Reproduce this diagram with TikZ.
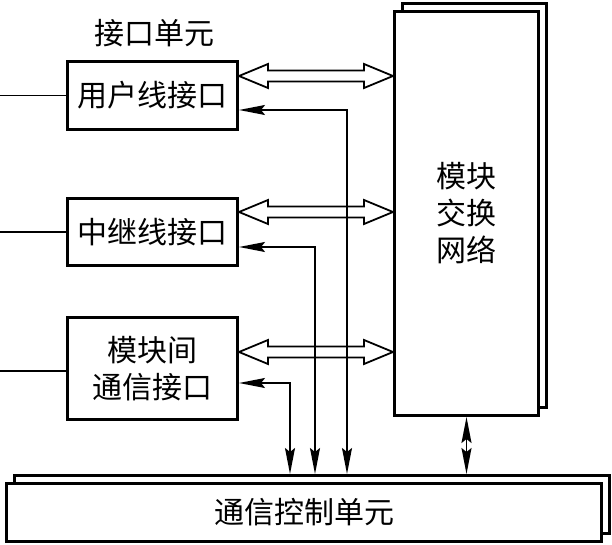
\documentclass[tikz,border=0pt]{standalone}
\usepackage{fontspec}
\newfontfamily\cjk{Noto Sans CJK SC}
\usetikzlibrary{arrows.meta,positioning,calc}

% wide hollow two-way bus arrow between two points on one level
\newcommand{\busarrow}[2]{%
  \draw[hollow] (#1) -- ($(#1)+(29pt,12pt)$) -- ($(#1)+(29pt,5.5pt)$)
    -- ($(#2)+(-29pt,5.5pt)$) -- ($(#2)+(-29pt,12pt)$) -- (#2)
    -- ($(#2)+(-29pt,-12pt)$) -- ($(#2)+(-29pt,-5.5pt)$)
    -- ($(#1)+(29pt,-5.5pt)$) -- ($(#1)+(29pt,-12pt)$) -- cycle;}

\begin{document}
\begin{tikzpicture}[
  x=1pt, y=-1pt,
  box/.style={draw, line width=2.8pt, fill=white, align=center, inner sep=2pt},
  hollow/.style={line width=1.8pt, fill=white, line join=miter},
  sig/.style={line width=1.7pt, {Stealth[length=26pt,width=10pt,inset=4pt]}-{Stealth[length=26pt,width=10pt,inset=4pt]}},
  wire/.style={line width=1.7pt},
  every node/.style={font=\cjk\fontsize{30}{37}\selectfont}
]
  \useasboundingbox (0,0) rectangle (612,545);

  % stacked units
  \node[box, minimum width=144.2pt, minimum height=404.2pt] (netback) at (474.5,205.5) {};
  \node[box, minimum width=144.2pt, minimum height=404.2pt] (net) at (466.5,213.5) {模块\\交换\\网络};
  \node[box, minimum width=595.2pt, minimum height=58.2pt] (ctrlback) at (312,504.5) {};
  \node[box, minimum width=595.2pt, minimum height=58.2pt] (ctrl) at (304,512.5) {通信控制单元};

  % interface unit
  \node (unit) at (154,33) {接口单元};
  \node[box, minimum width=170.2pt, minimum height=68.2pt] (user) at (152.5,95.5) {用户线接口};
  \node[box, minimum width=170.2pt, minimum height=67.2pt] (trunk) at (152.5,232) {中继线接口};
  \node[box, minimum width=170.2pt, minimum height=102.2pt] (inter) at (152.5,368.5) {模块间\\通信接口};

  \coordinate (ileft) at ([yshift=-2.5pt]inter.west);
  \draw[wire] (user.west) -- (0,0 |- user.west);
  \draw[wire] (trunk.west) -- (0,0 |- trunk.west);
  \draw[wire] (ileft) -- (0,0 |- ileft);

  % buses to the switching network
  \coordinate (ua) at ([yshift=19.5pt]user.east);
  \coordinate (ub) at (ua -| net.west);
  \coordinate (ta) at ([yshift=20pt]trunk.east);
  \coordinate (tb) at (ta -| net.west);
  \coordinate (ia) at ([yshift=16.5pt]inter.east);
  \coordinate (ib) at (ia -| net.west);
  \busarrow{ua}{ub}
  \busarrow{ta}{tb}
  \busarrow{ia}{ib}

  % control lines
  \draw[sig] ([yshift=-14.5pt]user.east) -| (347,0 |- ctrlback.north);
  \draw[sig] ([yshift=-15pt]trunk.east) -| (315,0 |- ctrlback.north);
  \draw[sig] ([yshift=-14.5pt]inter.east) -| (290,0 |- ctrlback.north);
  \draw[sig] (net.south) -- (net.south |- ctrlback.north);
\end{tikzpicture}
\end{document}
